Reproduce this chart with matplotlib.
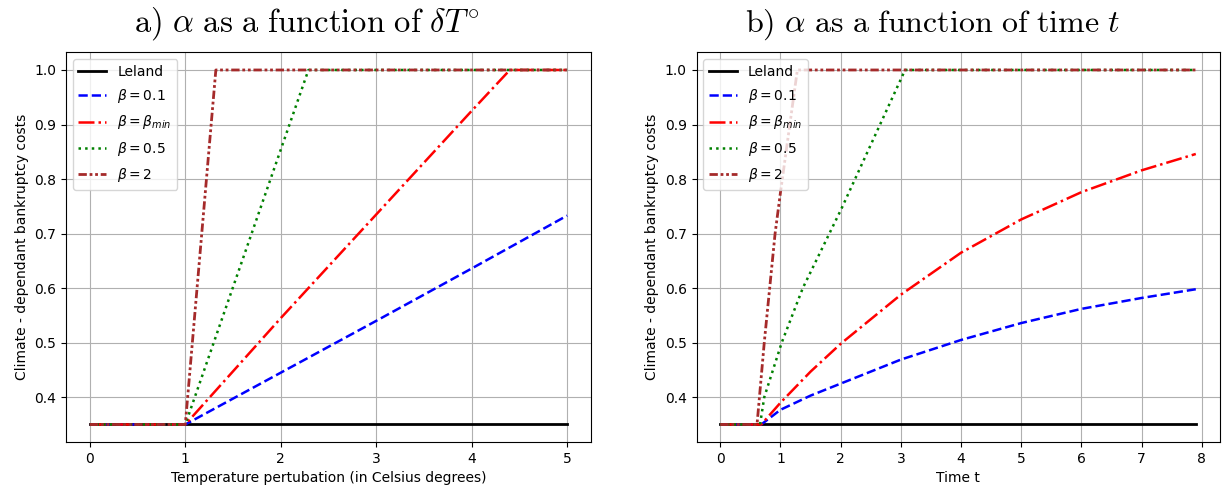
import matplotlib
matplotlib.use("Agg")
import matplotlib.pyplot as plt

plt.rcParams['mathtext.fontset'] = 'dejavusans'

# panel a) alpha vs temperature perturbation
T_leland = [0, 5]
a_leland_T = [0.35, 0.35]
T_b01 = [0, 1, 2, 3, 4, 5]
a_b01_T = [0.35, 0.35, 0.445, 0.54, 0.636, 0.733]
T_bmin = [0, 1, 2, 3, 4, 4.4, 5]
a_bmin_T = [0.35, 0.35, 0.545, 0.735, 0.925, 1.0, 1.0]
T_b05 = [0, 1, 2.29, 5]
a_b05_T = [0.35, 0.35, 1.0, 1.0]
T_b2 = [0, 1, 1.32, 5]
a_b2_T = [0.35, 0.35, 1.0, 1.0]

# panel b) alpha vs time
t_leland = [0, 7.9]
a_leland_t = [0.35, 0.35]
t_b01 = [0, 0.68, 1.0, 1.5, 2, 3, 4, 5, 6, 7, 7.9]
a_b01_t = [0.35, 0.35, 0.377, 0.403, 0.425, 0.469, 0.505, 0.536, 0.562, 0.582, 0.598]
t_bmin = [0, 0.68, 1.0, 1.5, 2, 3, 4, 5, 6, 7, 7.9]
a_bmin_t = [0.35, 0.35, 0.39, 0.447, 0.498, 0.588, 0.665, 0.726, 0.776, 0.816, 0.846]
t_b05 = [0, 0.66, 0.73, 1.02, 1.37, 2.01, 3.07, 7.9]
a_b05_t = [0.35, 0.35, 0.40, 0.50, 0.60, 0.745, 1.0, 1.0]
t_b2 = [0, 0.61, 0.73, 0.82, 0.91, 1.0, 1.28, 7.9]
a_b2_t = [0.35, 0.35, 0.50, 0.60, 0.70, 0.776, 1.0, 1.0]

labels = ['Leland', r'$\beta = 0.1$', r'$\beta = \beta_{min}$', r'$\beta = 0.5$', r'$\beta = 2$']
dashdotdot = (0, (3, 1, 1, 1, 1, 1))

fig = plt.figure(figsize=(12.22, 4.93), dpi=100)
ax1 = fig.add_axes([0.054, 0.103, 0.4296, 0.791])
ax2 = fig.add_axes([0.570, 0.103, 0.428, 0.791])

def draw(ax, data):
    (x0, y0), (x1, y1), (x2, y2), (x3, y3), (x4, y4) = data
    ax.plot(x0, y0, color='black', lw=2, label=labels[0])
    ax.plot(x1, y1, color='blue', ls='--', lw=1.8, label=labels[1])
    ax.plot(x2, y2, color='red', ls='-.', lw=1.8, label=labels[2])
    ax.plot(x3, y3, color='green', ls=':', lw=1.8, label=labels[3])
    ax.plot(x4, y4, color='brown', ls=dashdotdot, lw=2, label=labels[4])
    ax.grid(True)
    ax.legend(loc='upper left', labelspacing=0.6)
    ax.set_ylabel('Climate - dependant bankruptcy costs')

draw(ax1, [(T_leland, a_leland_T), (T_b01, a_b01_T), (T_bmin, a_bmin_T),
           (T_b05, a_b05_T), (T_b2, a_b2_T)])
draw(ax2, [(t_leland, a_leland_t), (t_b01, a_b01_t), (t_bmin, a_bmin_t),
           (t_b05, a_b05_t), (t_b2, a_b2_t)])

ax1.set_xlabel('Temperature pertubation (in Celsius degrees)')
ax2.set_xlabel('Time t')

ax1.set_title(r'$\mathrm{a)\ }\alpha\mathrm{\ as\ a\ function\ of\ }\delta T^{\circ}$',
              fontsize=23.5, math_fontfamily='cm', pad=15, x=0.459)
ax2.set_title(r'$\mathrm{b)\ }\alpha\mathrm{\ as\ a\ function\ of\ time\ }t$',
              fontsize=23, math_fontfamily='cm', pad=15, x=0.451)

fig.savefig('out.png', dpi=100)
